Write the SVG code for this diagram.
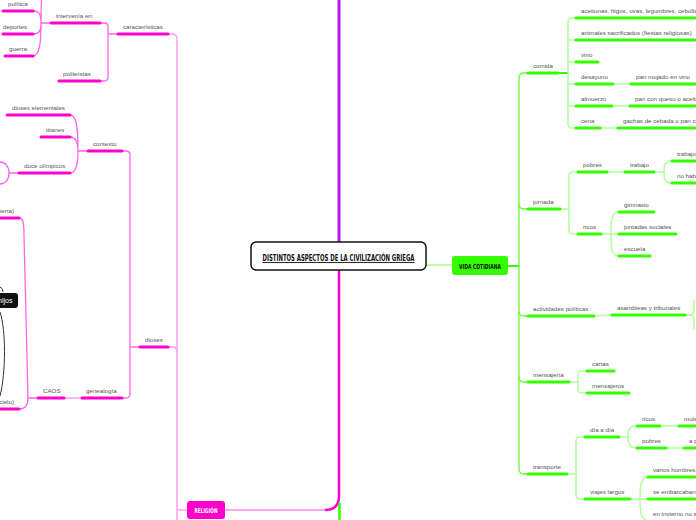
<svg xmlns="http://www.w3.org/2000/svg" width="696" height="520" viewBox="0 0 696 520">
<style>
.t{font-family:"Liberation Sans",Arial,sans-serif;font-size:6.2px;fill:#555}
.gb{stroke:#33ff00;stroke-width:3;stroke-linecap:round;fill:none}
.mb{stroke:#ff00cc;stroke-width:3;stroke-linecap:round;fill:none}
.gc{fill:none;stroke:#b3ff9f;stroke-width:1.5}
.gm{fill:none;stroke:#66ff33;stroke-width:1.3}
.mc{fill:none;stroke:#ff9ff0;stroke-width:1.5}
.mm{fill:none;stroke:#ff66e6;stroke-width:1.3}
.cd{font-family:"DejaVu Sans",sans-serif;font-weight:bold;font-stretch:condensed}
</style>
<rect width="696" height="520" fill="#fff"/>
<g id="connectors">
<path d="M339,0 L339,242" stroke="#b41ee6" stroke-width="3" fill="none"/>
<path d="M339,270 L339,496 Q339,510 325,510" stroke="#ff00cc" stroke-width="2.5" fill="none"/>
<path d="M325,510 L225,510" stroke="#ff88ea" stroke-width="1.5" fill="none"/>
<path d="M339.5,503 L339.5,520" stroke="#33ff00" stroke-width="2.5" fill="none"/>
<path d="M426,265 L452,265" stroke="#bbffaa" stroke-width="2" fill="none"/>
<path d="M508,266 L519,266" stroke="#33ff00" stroke-width="2" fill="none"/>
<path class="gm" d="M528,73 L524,73 Q519,73 519,78 L519,469 Q519,474 524,474 L528,474"/>
<path class="gm" d="M519,204 Q519,209 524,209 L528,209 M519,311 Q519,316 524,316 L528,316 M519,377 Q519,382 524,382 L528,382"/>
<path d="M558,73 L568,73" stroke="#33ff00" stroke-width="2" fill="none"/>
<path class="gc" d="M576,18 L572,18 Q568,18 568,22 L568,124 Q568,128 572,128 L576,128 M568,40 L576,40 M568,62 L576,62 M568,84 L576,84 M568,106 L576,106"/>
<path class="gc" d="M613,84 L631,84 M612,106 L630,106 M600,128 L618,128"/>
<path class="gc" d="M560,209 L569,209 M578,172 L573,172 Q569,172 569,176 L569,230 Q569,234 573,234 L578,234"/>
<path class="gc" d="M607,172 L625,172"/>
<path class="gc" d="M654,172 L664,172 M672,161 C665,161 664,164 664,172 C664,180 665,183 672,183"/>
<path class="gc" d="M601,234 L619,234 M619,212 C612,212 611,218 611,234 C611,250 612,256 619,256"/>
<path class="gc" d="M594,316 L612,315"/>
<path class="gc" d="M685,315 L690,315 Q694,315 694,310 L694,300 M690,315 Q694,315 694,320 L694,330"/>
<path class="gc" d="M569,382 L578,382 M587,371 L582,371 Q578,371 578,375 L578,389 Q578,393 582,393 L587,393"/>
<path class="gc" d="M567,474 L576,474 M585,437 L580,437 Q576,437 576,441 L576,495 Q576,499 580,499 L585,499"/>
<path class="gc" d="M619,437 L628,437 M637,426 C630,426 628,429 628,437 C628,445 630,448 637,448"/>
<path class="gc" d="M660,426 L679,426 M666,448 L684,448"/>
<path class="gc" d="M630,499 L648,499 M648,477 C641,477 640,485 640,499 C640,513 641,519 648,521"/>
<path class="mc" d="M168,34 L172,34 Q177,34 177,39 L177,520 M168,347 L172,347 Q177,347 177,352 M177,510 L187,510"/>
<path class="mm" d="M118,34 L108,34 M100,23 L104,23 Q108,23 108,27 L108,77 Q108,81 104,81 L100,81"/>
<path class="mm" d="M51,23 L41,23 M41,23 C41,14 39,11 33,11 M41,23 C41,14 41,4 42,-4 M41,23 C41,31 39,34 33,34 M41,23 C41,40 40,56 33,56"/>
<path class="mm" d="M140,347 L130,347 M122,151 L126,151 Q130,151 130,155 L130,394 Q130,398 126,398 L122,398"/>
<path class="mm" d="M88,151 L78,151 M78,151 C78,125 76,115 70,115 M78,151 C78,142 76,137 70,137 M78,151 C78,165 76,173 70,173"/>
<path class="mm" d="M19,173 L9,173 M9,173 C9,166 5,162 0,162 M9,173 C9,180 5,184 0,184"/>
<path class="mc" d="M82,398 L64,398"/>
<path class="mm" d="M38,398 L28,398 M28,398 C28,405 25,409 19,409 M28,398 L24,236 C24,222 23,218 19,218"/>
<path d="M0,287 Q3,288 3,292 M0,312 C6,330 6,372 0,396" stroke="#333" stroke-width="1" fill="none"/>
</g>
<g id="root">
<rect x="251" y="242" width="175" height="28" rx="5" fill="#fff" stroke="#111" stroke-width="1.5"/>
<text class="cd" x="338.5" y="261" font-size="9" text-anchor="middle" text-decoration="underline" textLength="152" lengthAdjust="spacingAndGlyphs" fill="#111">DISTINTOS ASPECTOS DE LA CIVILIZACIÓN GRIEGA</text>
</g>
<g id="vida-cotidiana">
<rect x="452" y="256" width="56" height="19" rx="3" fill="#33ff00"/>
<text class="cd" x="480" y="268.5" font-size="7" text-anchor="middle" textLength="42" lengthAdjust="spacingAndGlyphs" fill="#111">VIDA COTIDIANA</text>
</g>
<g id="religion">
<rect x="187" y="501" width="38" height="18" rx="3" fill="#ff00cc"/>
<text class="cd" x="206" y="512.5" font-size="6.5" text-anchor="middle" textLength="23" lengthAdjust="spacingAndGlyphs" fill="#fff">RELIGIÓN</text>
</g>
<g id="hijos">
<rect x="-6" y="293" width="24" height="15" rx="3" fill="#111"/>
<text x="12.5" y="303.2" font-family="Liberation Sans,Arial,sans-serif" font-size="7" fill="#fff" text-anchor="end">hijos</text>
</g>
<g id="green-topics">
<g id="comida"><line class="gb" x1="528" y1="73" x2="558" y2="73"/><text class="t" x="533" y="68">comida</text></g>
<g id="aceitunas"><line class="gb" x1="576" y1="18" x2="700" y2="18"/><text class="t" x="581" y="13">aceitunas, higos, uvas, legumbres, cebollas</text></g>
<g id="animales"><line class="gb" x1="576" y1="40" x2="700" y2="40"/><text class="t" x="581" y="35">animales sacrificados (fiestas religiosas)</text></g>
<g id="vino"><line class="gb" x1="576" y1="62" x2="598" y2="62"/><text class="t" x="581" y="57">vino</text></g>
<g id="desayuno"><line class="gb" x1="576" y1="84" x2="613" y2="84"/><text class="t" x="581" y="79">desayuno</text></g>
<g id="pan-mojado"><line class="gb" x1="631" y1="84" x2="700" y2="84"/><text class="t" x="636" y="79">pan mojado en vino</text></g>
<g id="almuerzo"><line class="gb" x1="576" y1="106" x2="612" y2="106"/><text class="t" x="581" y="101">almuerzo</text></g>
<g id="pan-queso"><line class="gb" x1="630" y1="106" x2="700" y2="106"/><text class="t" x="635" y="101">pan con queso o aceitunas</text></g>
<g id="cena"><line class="gb" x1="576" y1="128" x2="600" y2="128"/><text class="t" x="581" y="123">cena</text></g>
<g id="gachas"><line class="gb" x1="618" y1="128" x2="700" y2="128"/><text class="t" x="623" y="123">gachas de cebada o pan con</text></g>
<g id="jornada"><line class="gb" x1="528" y1="209" x2="560" y2="209"/><text class="t" x="533" y="204">jornada</text></g>
<g id="pobres"><line class="gb" x1="578" y1="172" x2="607" y2="172"/><text class="t" x="583" y="167">pobres</text></g>
<g id="trabajo"><line class="gb" x1="625" y1="172" x2="654" y2="172"/><text class="t" x="630" y="167">trabajo</text></g>
<g id="trabajo2"><line class="gb" x1="672" y1="161" x2="700" y2="161"/><text class="t" x="677" y="156">trabajo</text></g>
<g id="no-hab"><line class="gb" x1="672" y1="183" x2="700" y2="183"/><text class="t" x="677" y="178">no habían</text></g>
<g id="ricos"><line class="gb" x1="578" y1="234" x2="601" y2="234"/><text class="t" x="583" y="229">ricos</text></g>
<g id="gimnasio"><line class="gb" x1="619" y1="212" x2="654" y2="212"/><text class="t" x="624" y="207">gimnasio</text></g>
<g id="juntadas"><line class="gb" x1="619" y1="234" x2="676" y2="234"/><text class="t" x="624" y="229">juntadas sociales</text></g>
<g id="escuela"><line class="gb" x1="619" y1="256" x2="650" y2="256"/><text class="t" x="624" y="251">escuela</text></g>
<g id="actividades"><line class="gb" x1="528" y1="316" x2="594" y2="316"/><text class="t" x="533" y="311">actividades políticas</text></g>
<g id="asambleas"><line class="gb" x1="612" y1="315" x2="685" y2="315"/><text class="t" x="617" y="310">asambleas y tribunales</text></g>
<g id="mensajeria"><line class="gb" x1="528" y1="382" x2="569" y2="382"/><text class="t" x="533" y="377">mensajería</text></g>
<g id="cartas"><line class="gb" x1="587" y1="371" x2="614" y2="371"/><text class="t" x="592" y="366">cartas</text></g>
<g id="mensajeros"><line class="gb" x1="587" y1="393" x2="629" y2="393"/><text class="t" x="592" y="388">mensajeros</text></g>
<g id="transporte"><line class="gb" x1="528" y1="474" x2="567" y2="474"/><text class="t" x="533" y="469">transporte</text></g>
<g id="dia-a-dia"><line class="gb" x1="585" y1="437" x2="619" y2="437"/><text class="t" x="590" y="432">día a día</text></g>
<g id="ricos2"><line class="gb" x1="637" y1="426" x2="660" y2="426"/><text class="t" x="642" y="421">ricos</text></g>
<g id="mula"><line class="gb" x1="679" y1="426" x2="700" y2="426"/><text class="t" x="684" y="421">mula</text></g>
<g id="pobres2"><line class="gb" x1="637" y1="448" x2="666" y2="448"/><text class="t" x="642" y="443">pobres</text></g>
<g id="a-pie"><line class="gb" x1="684" y1="448" x2="700" y2="448"/><text class="t" x="689" y="443">a pie</text></g>
<g id="viajes"><line class="gb" x1="585" y1="499" x2="630" y2="499"/><text class="t" x="590" y="494">viajes largos</text></g>
<g id="varios"><line class="gb" x1="648" y1="477" x2="700" y2="477"/><text class="t" x="653" y="472">varios hombres</text></g>
<g id="embarcaban"><line class="gb" x1="648" y1="499" x2="700" y2="499"/><text class="t" x="653" y="494">se embarcaban</text></g>
<g id="invierno"><text class="t" x="653" y="516">en invierno no se</text></g>
</g>
<g id="pink-topics">
<g id="caracteristicas"><line class="mb" x1="118" y1="34" x2="168" y2="34"/><text class="t" x="123" y="29">características</text></g>
<g id="intervenia"><line class="mb" x1="51" y1="23" x2="100" y2="23"/><text class="t" x="56" y="18">intervenía en:</text></g>
<g id="politica"><line class="mb" x1="3" y1="11" x2="33" y2="11"/><text class="t" x="8" y="6">política</text></g>
<g id="deportes"><line class="mb" x1="3" y1="34" x2="33" y2="34"/><text class="t" x="3" y="29">deportes</text></g>
<g id="guerra"><line class="mb" x1="5" y1="56" x2="33" y2="56"/><text class="t" x="9" y="51">guerra</text></g>
<g id="politeistas"><line class="mb" x1="59" y1="81" x2="100" y2="81"/><text class="t" x="63" y="76">politeístas</text></g>
<g id="dioses"><line class="mb" x1="140" y1="347" x2="168" y2="347"/><text class="t" x="145" y="342">dioses</text></g>
<g id="contexto"><line class="mb" x1="88" y1="151" x2="122" y2="151"/><text class="t" x="93" y="146">contexto</text></g>
<g id="elementales"><line class="mb" x1="7" y1="115" x2="70" y2="115"/><text class="t" x="12" y="110">dioses elementales</text></g>
<g id="titanes"><line class="mb" x1="41" y1="137" x2="70" y2="137"/><text class="t" x="46" y="132">titanes</text></g>
<g id="olimpicos"><line class="mb" x1="19" y1="173" x2="70" y2="173"/><text class="t" x="24" y="168">doce olímpicos</text></g>
<g id="genealogia"><line class="mb" x1="82" y1="398" x2="122" y2="398"/><text class="t" x="86" y="393">genealogía</text></g>
<g id="caos"><line class="mb" x1="38" y1="398" x2="64" y2="398"/><text class="t" x="43" y="393">CAOS</text></g>
<g id="tierra"><line class="mb" x1="-5" y1="218" x2="19" y2="218"/><text class="t" x="14" y="213" text-anchor="end">(tierra)</text></g>
<g id="cielo"><line class="mb" x1="-5" y1="409" x2="19" y2="409"/><text class="t" x="14" y="404" text-anchor="end">(cielo)</text></g>
</g>
</svg>
